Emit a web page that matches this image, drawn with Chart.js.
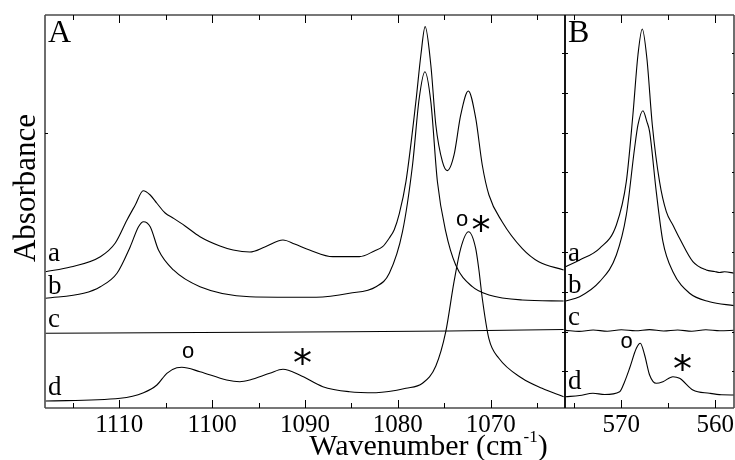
<!DOCTYPE html>
<html><head><meta charset="utf-8">
<script src="https://cdn.jsdelivr.net/npm/chart.js@4.4.1/dist/chart.umd.min.js"></script>
<style>
html,body{margin:0;padding:0;background:#fff;}
#wrap{position:relative;width:735px;height:460px;background:#fff;}
canvas{position:absolute;left:0;top:0;}
</style></head><body>
<div id="wrap"><canvas id="cA" width="735" height="460"></canvas><canvas id="cB" width="735" height="460"></canvas></div>
<script>
// ---------- DATA ----------
// Panel A (1118 - 1062 cm-1)
const A_a_wn  = [1117.94,1115.26,1112.04,1110.43,1109.17,1108.28,1107.42,1106.67,1105.95,1105.06,1104.17,1102.92,1101.31,1099.16,1097.74,1095.94,1094.33,1092.37,1091.12,1089.51,1087.01,1084.14,1082.53,1081.64,1080.92,1080.39,1079.85,1079.13,1078.06,1077.52,1077.06,1076.45,1075.91,1075.20,1074.67,1073.95,1073.23,1072.41,1071.62,1070.91,1070.19,1068.77,1066.62,1064.83,1062.15];
const A_a_abs = [2.505,2.623,2.882,3.226,3.804,4.181,4.540,4.432,4.224,3.980,3.847,3.653,3.384,3.151,3.050,3.000,3.126,3.302,3.201,3.050,2.882,2.882,3.025,3.133,3.352,3.560,3.955,4.766,6.776,7.950,8.661,7.698,6.191,5.269,5.043,5.437,6.442,7.045,6.367,5.186,4.432,3.761,3.093,2.756,2.548];

const A_b_wn  = [1117.94,1113.83,1112.04,1110.25,1108.82,1107.93,1107.39,1106.67,1105.78,1104.17,1101.31,1095.94,1088.79,1085.21,1082.35,1080.92,1079.50,1078.42,1077.70,1077.09,1076.45,1075.74,1074.84,1073.77,1071.98,1070.19,1066.62,1062.15];
const A_b_abs = [1.837,1.962,2.128,2.465,3.133,3.636,3.761,3.636,3.050,2.548,2.128,1.877,1.862,1.962,2.128,2.465,3.510,5.186,6.862,7.530,6.776,4.766,3.510,2.673,2.128,1.920,1.794,1.769];

const A_c_wn  = [1117.94,1101.31,1085.21,1074.49,1062.15];
const A_c_abs = [0.957,0.977,0.995,1.015,1.053];

const A_d_wn  = [1117.94,1109.89,1107.39,1105.95,1104.88,1103.81,1103.27,1101.31,1098.44,1097.02,1095.94,1093.80,1092.37,1090.58,1088.08,1085.21,1082.35,1079.13,1077.35,1075.91,1074.84,1073.95,1073.23,1072.39,1071.62,1071.27,1070.91,1070.19,1069.12,1066.62,1064.47,1062.15];
const A_d_abs = [-0.744,-0.676,-0.535,-0.342,-0.048,0.093,0.103,-0.008,-0.216,-0.259,-0.216,-0.048,0.053,-0.090,-0.384,-0.510,-0.535,-0.425,-0.299,0.136,0.997,2.254,3.093,3.510,3.093,2.548,1.837,0.814,0.329,-0.173,-0.425,-0.636];

// Panel B (576 - 558 cm-1)
const B_a_wn  = [575.93,574.44,572.31,570.53,569.47,568.77,568.23,567.77,567.28,566.70,565.93,565.21,564.51,563.80,562.38,560.96,560.07,559.54,559.01,557.95];
const B_a_abs = [2.631,2.799,3.093,3.678,4.766,6.442,7.950,8.603,7.867,6.191,4.766,4.013,3.678,3.344,2.756,2.548,2.510,2.485,2.503,2.465];

const B_b_wn  = [575.93,574.44,572.31,570.53,569.47,568.59,568.23,567.70,567.28,566.99,566.28,565.57,564.51,562.73,560.61,557.95];
const B_b_abs = [1.769,1.877,2.254,2.925,3.930,5.606,6.191,6.550,6.274,6.023,4.515,3.259,2.505,1.962,1.751,1.651];

const B_c_wn  = [575.93,574.5,573,571.5,570,568.5,567,565.5,564,562.5,561,559.5,557.95];
const B_c_abs = [1.030,1.005,1.040,1.010,1.045,1.020,1.050,1.015,1.040,1.010,1.045,1.020,1.035];

const B_d_wn  = [575.93,574.44,573.02,571.78,570.18,569.65,569.12,568.40,567.98,567.52,566.99,566.28,565.57,564.51,563.80,562.38,560.61,559.33,557.95];
const B_d_abs = [-0.636,-0.606,-0.550,-0.580,-0.510,-0.259,0.078,0.580,0.706,0.412,-0.090,-0.299,-0.259,-0.133,-0.173,-0.467,-0.550,-0.588,-0.593];

// Axis ranges and ticks
const A_range = [1062, 1118];
const B_range = [558, 576];
const Y_range = [-0.92, 8.954];
const A_major = [1110, 1100, 1090, 1080, 1070];
const A_minor = [1115, 1105, 1095, 1085, 1075, 1065];
const B_major = [570, 560];
const B_minor = [575, 565];
const A_yticks = [6];
const B_yticks = [0, 1, 2, 3, 4, 5, 6, 7, 8];

// Curve labels (baseline absorbance) and markers
const curveNames = ['a', 'b', 'c', 'd'];
const A_labelAbs = [2.78, 1.945, 1.108, -0.593];
const B_labelAbs = [2.774, 1.97, 1.168, -0.45];
const A_mark_sym = ['o', '*', 'o', '*'];
const A_mark_wn  = [1102.60, 1090.26, 1073.09, 1071.05];
const A_mark_abs = [0.487, 0.387, 3.804, 3.729];
const B_mark_sym = ['o', '*'];
const B_mark_wn  = [569.44, 563.48];
const B_mark_abs = [0.739, 0.236];

// ---------- DRAWING ----------
const SERIF = '"Liberation Serif", "Times New Roman", Times, serif';
function pts(wn, ab) { return wn.map((w, i) => ({x: w, y: ab[i]})); }
function ds(wn, ab) { return {data: pts(wn, ab), borderColor: '#000', borderWidth: 1.1, pointRadius: 0, cubicInterpolationMode: 'monotone', fill: false}; }

function drawGlyph(ctx, text, font, cx, cy) {
  ctx.font = font;
  const m = ctx.measureText(text);
  const w = m.actualBoundingBoxLeft + m.actualBoundingBoxRight;
  const h = m.actualBoundingBoxAscent + m.actualBoundingBoxDescent;
  ctx.textAlign = 'left'; ctx.textBaseline = 'alphabetic';
  ctx.fillText(text, cx - w / 2 + m.actualBoundingBoxLeft, cy - h / 2 + m.actualBoundingBoxAscent);
}
function line(ctx, x1, y1, x2, y2) { ctx.beginPath(); ctx.moveTo(x1, y1); ctx.lineTo(x2, y2); ctx.stroke(); }

function panelPlugin(cfg) {
  return {
    id: 'panel' + cfg.letter,
    afterDatasetsDraw(chart) {
      const ctx = chart.ctx, ca = chart.chartArea, xs = chart.scales.x, ys = chart.scales.y;
      ctx.save();
      // frame
      ctx.strokeStyle = '#4a4a4a'; ctx.lineWidth = 1.6;
      line(ctx, ca.left, ca.top, ca.right, ca.top);
      line(ctx, ca.left, ca.bottom, ca.right, ca.bottom);
      line(ctx, ca.right, ca.top, ca.right, ca.bottom);
      ctx.strokeStyle = cfg.leftColor;
      line(ctx, ca.left, ca.top, ca.left, ca.bottom);
      // x ticks
      ctx.strokeStyle = '#000'; ctx.lineWidth = 1;
      cfg.major.forEach(v => { const p = Math.round(xs.getPixelForValue(v)) + 0.5; line(ctx, p, ca.bottom, p, ca.bottom - 8); line(ctx, p, ca.top, p, ca.top + 8); });
      cfg.minor.forEach(v => { const p = Math.round(xs.getPixelForValue(v)) + 0.5; line(ctx, p, ca.bottom, p, ca.bottom - 5); line(ctx, p, ca.top, p, ca.top + 5); });
      // y ticks
      cfg.yticks.forEach(v => { const p = Math.round(ys.getPixelForValue(v)) + 0.5; line(ctx, ca.left - cfg.yOut, p, ca.left + 3, p); line(ctx, ca.right - 2, p, ca.right, p); });
      // tick labels
      ctx.fillStyle = '#000';
      ctx.font = '25px ' + SERIF; ctx.textAlign = 'center'; ctx.textBaseline = 'alphabetic';
      cfg.major.forEach(v => ctx.fillText(String(v), xs.getPixelForValue(v), ca.bottom + 24));
      // panel letter
      ctx.font = '32px ' + SERIF; ctx.textAlign = 'left';
      ctx.fillText(cfg.letter, ca.left + 3, ca.top + 27);
      // curve labels
      ctx.font = '27px ' + SERIF;
      curveNames.forEach((n, i) => ctx.fillText(n, ca.left + 3, ys.getPixelForValue(cfg.labelAbs[i])));
      // markers
      cfg.markSym.forEach((s, i) => {
        const cx = xs.getPixelForValue(cfg.markWn[i]), cy = ys.getPixelForValue(cfg.markAbs[i]);
        if (s === 'o') drawGlyph(ctx, 'o', '22px "Liberation Sans", Arial, sans-serif', cx, cy);
        else drawGlyph(ctx, '*', '38px "DejaVu Sans", sans-serif', cx, cy);
      });
      if (cfg.titles) {
        // y title
        ctx.save();
        ctx.translate(35, 188); ctx.rotate(-Math.PI / 2);
        ctx.font = '31px ' + SERIF; ctx.textAlign = 'center'; ctx.textBaseline = 'alphabetic';
        ctx.fillText('Absorbance', 0, 0);
        ctx.restore();
        // x title with superscript
        const main = 'Wavenumber (cm', sup = '-1', end = ')';
        ctx.font = '30px ' + SERIF; const w1 = ctx.measureText(main).width, w3 = ctx.measureText(end).width;
        ctx.font = '17px ' + SERIF; const w2 = ctx.measureText(sup).width;
        let x0 = 428 - (w1 + w2 + w3) / 2; const base = 455;
        ctx.textAlign = 'left';
        ctx.font = '30px ' + SERIF; ctx.fillText(main, x0, base);
        ctx.font = '17px ' + SERIF; ctx.fillText(sup, x0 + w1 + 1, base - 13);
        ctx.font = '30px ' + SERIF; ctx.fillText(end, x0 + w1 + w2 + 1, base);
      }
      ctx.restore();
    }
  };
}

function makeChart(id, datasets, range, padL, padR, plugin) {
  return new Chart(document.getElementById(id), {
    type: 'line',
    data: {datasets},
    options: {
      responsive: false, animation: false, devicePixelRatio: 1,
      layout: {padding: {left: padL, right: padR, top: 15, bottom: 52}},
      scales: {
        x: {type: 'linear', reverse: true, min: range[0], max: range[1], display: false},
        y: {type: 'linear', min: Y_range[0], max: Y_range[1], display: false}
      },
      plugins: {legend: {display: false}, tooltip: {enabled: false}},
      elements: {point: {radius: 0}}
    },
    plugins: [plugin]
  });
}

makeChart('cA', [ds(A_a_wn, A_a_abs), ds(A_b_wn, A_b_abs), ds(A_c_wn, A_c_abs), ds(A_d_wn, A_d_abs)], A_range, 45, 170,
  panelPlugin({letter: 'A', major: A_major, minor: A_minor, yticks: A_yticks, yOut: 0, leftColor: '#4a4a4a', labelAbs: A_labelAbs, markSym: A_mark_sym, markWn: A_mark_wn, markAbs: A_mark_abs, titles: true}));
makeChart('cB', [ds(B_a_wn, B_a_abs), ds(B_b_wn, B_b_abs), ds(B_c_wn, B_c_abs), ds(B_d_wn, B_d_abs)], B_range, 565, 1,
  panelPlugin({letter: 'B', major: B_major, minor: B_minor, yticks: B_yticks, yOut: 3, leftColor: '#000', labelAbs: B_labelAbs, markSym: B_mark_sym, markWn: B_mark_wn, markAbs: B_mark_abs, titles: false}));
</script>
</body></html>
